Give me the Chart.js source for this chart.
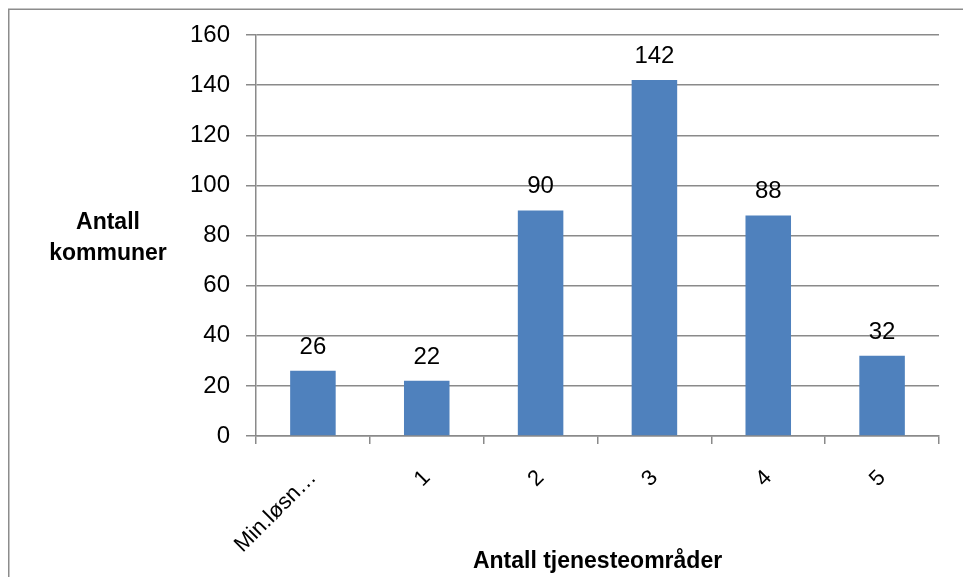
<!DOCTYPE html>
<html>
<head>
<meta charset="utf-8">
<script src="https://cdn.jsdelivr.net/npm/chart.js@4/dist/chart.umd.min.js"></script>
<style>
  html, body { margin: 0; padding: 0; background: #ffffff; }
  #wrap { width: 963px; height: 577px; position: relative; }
</style>
</head>
<body>
<div id="wrap"><canvas id="c" width="963" height="577"></canvas></div>
<script>
// Number of municipalities by number of service areas
const categories = ['Min.løsn…', '1', '2', '3', '4', '5'];
const kommuner = [26, 22, 90, 142, 88, 32];
const yTicks = [0, 20, 40, 60, 80, 100, 120, 140, 160];
const yTitleLines = ['Antall', 'kommuner'];
const xTitle = 'Antall tjenesteområder';

const FONT = '"Liberation Sans", Arial, sans-serif';
const GRID = '#8a8a8a';
const BAR = '#4F81BD';

// Outer frame, value labels above bars, and the horizontal y-axis title
const decorations = {
  id: 'decorations',
  beforeDraw(chart) {
    const ctx = chart.ctx;
    ctx.save();
    ctx.fillStyle = '#ffffff';
    ctx.fillRect(0, 0, chart.width, chart.height);
    ctx.strokeStyle = '#8c8c8c';
    ctx.lineWidth = 1.5;
    ctx.strokeRect(8.75, 9.25, chart.width + 20, chart.height + 20);
    ctx.restore();
  },
  afterDatasetsDraw(chart) {
    const ctx = chart.ctx;
    const meta = chart.getDatasetMeta(0);
    ctx.save();
    ctx.fillStyle = '#000000';
    ctx.font = '24px ' + FONT;
    ctx.textAlign = 'center';
    ctx.textBaseline = 'alphabetic';
    meta.data.forEach((bar, i) => {
      ctx.fillText(String(kommuner[i]), bar.x, bar.y - 17);
    });
    // y-axis title, written horizontally to the left of the tick labels
    ctx.font = 'bold 23px ' + FONT;
    ctx.textBaseline = 'middle';
    const cx = 108;
    const cy = (chart.chartArea.top + chart.chartArea.bottom) / 2;
    ctx.fillText(yTitleLines[0], cx, cy - 13);
    ctx.fillText(yTitleLines[1], cx, cy + 18);
    ctx.restore();
  }
};

new Chart(document.getElementById('c'), {
  type: 'bar',
  data: {
    labels: categories,
    datasets: [{
      data: kommuner,
      backgroundColor: BAR,
      borderWidth: 0,
      categoryPercentage: 0.8,
      barPercentage: 0.5
    }]
  },
  options: {
    responsive: false,
    animation: false,
    devicePixelRatio: 1,
    layout: { padding: { left: 0, right: 24, top: 35, bottom: 0 } },
    plugins: {
      legend: { display: false },
      tooltip: { enabled: false }
    },
    scales: {
      x: {
        grid: {
          display: true,
          drawOnChartArea: false,
          drawTicks: true,
          tickLength: 8,
          offset: true,
          color: GRID,
          lineWidth: 1.5
        },
        border: { display: true, color: GRID, width: 1.5 },
        ticks: {
          color: '#000000',
          font: { family: FONT, size: 22 },
          minRotation: 45,
          maxRotation: 45,
          padding: 21,
          autoSkip: false
        },
        title: {
          display: true,
          text: xTitle,
          color: '#000000',
          font: { family: FONT, size: 23, weight: 'bold' },
          padding: { top: 0, bottom: 2 }
        },
        afterFit(scale) { scale.height = 141; }
      },
      y: {
        min: 0,
        max: 160,
        afterBuildTicks(scale) { scale.ticks = yTicks.map(v => ({ value: v })); },
        grid: {
          color: GRID,
          lineWidth: 1.5,
          drawTicks: true,
          tickLength: 10
        },
        border: { display: true, color: GRID, width: 1.5 },
        ticks: {
          color: '#000000',
          font: { family: FONT, size: 24 },
          padding: 16
        },
        afterFit(scale) { scale.width = 256; }
      }
    }
  },
  plugins: [decorations]
});
</script>
</body>
</html>
